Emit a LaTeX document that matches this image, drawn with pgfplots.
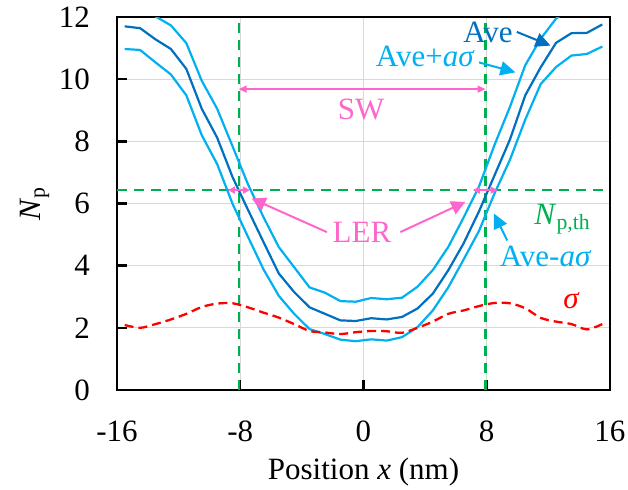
\documentclass[border=0pt]{standalone}
\usepackage{fontspec}
\setmainfont{Liberation Serif}
\usepackage{pgfplots}
\pgfplotsset{compat=1.18}
\usetikzlibrary{arrows.meta}

\definecolor{avec}{HTML}{0070C0}
\definecolor{sigc}{HTML}{00B0F0}
\definecolor{grnc}{HTML}{00B050}
\definecolor{pnkc}{HTML}{FF66CC}
\definecolor{gridc}{HTML}{D9D9D9}

\pgfplotstableread{
x     ave    up     lo     sig
-15.5 11.70  12.45  10.97  2.09
-14.5 11.64  12.35  10.94  2.00
-13.5 11.28  12.02  10.54  2.12
-12.5 10.97  11.73  10.15  2.27
-11.5 10.33  11.16  9.48   2.45
-10.5 9.05   9.95   8.20   2.67
-9.5  8.12   9.05   7.27   2.78
-8.5  6.85   7.84   5.99   2.79
-7.5  5.80   6.62   4.93   2.66
-6.5  4.77   5.57   3.89   2.49
-5.5  3.75   4.60   3.03   2.33
-4.5  3.15   3.95   2.45   2.12
-3.5  2.66   3.30   1.96   1.90
-2.5  2.45   3.13   1.80   1.85
-1.5  2.24   2.86   1.62   1.80
-0.5  2.22   2.84   1.57   1.86
0.5   2.31   2.96   1.63   1.90
1.5   2.27   2.92   1.59   1.89
2.5   2.35   2.97   1.70   1.84
3.5   2.62   3.32   2.02   2.00
4.5   3.10   3.86   2.56   2.20
5.5   3.85   4.60   3.30   2.45
6.5   4.72   5.55   4.20   2.56
7.5   5.75   6.55   5.12   2.70
8.5   6.90   7.88   6.32   2.80
9.5   8.05   9.10   7.40   2.79
10.5  9.48   10.45  8.70   2.63
11.5  10.38  11.30  9.84   2.32
12.5  11.17  11.95  10.39  2.20
13.5  11.48  12.30  10.76  2.12
14.5  11.49  12.40  10.81  1.95
15.5  11.76  12.60  11.05  2.12
}\datatab

\begin{document}
\begin{tikzpicture}
\useasboundingbox (-58.5pt,-49.5pt) rectangle (255.5pt,195pt);
\begin{axis}[
  scale only axis,
  width=246.5pt, height=186.5pt,
  xmin=-16, xmax=16, ymin=0, ymax=12,
  xtick={-16,-8,0,8,16},
  ytick={0,2,4,6,8,10,12},
  xtick pos=left, ytick pos=left,
  tick align=inside,
  major tick length=5pt,
  grid=major,
  grid style={gridc, line width=0.5pt},
  axis line style={black, line width=1.2pt},
  tick style={black, line width=1.2pt},
  font=\fontsize{15.5}{18}\selectfont,
  /pgf/number format/assume math mode=true,
  xticklabel style={yshift=-12pt},
  yticklabel style={xshift=-10pt},
  xlabel={Position \textit{x} (nm)},
  ylabel={\textit{N}\textsubscript{p}},
  xlabel style={yshift=-1pt},
  ylabel style={yshift=-2pt},
  clip mode=individual,
]
% threshold and edge lines
\addplot[grnc, line width=1.2pt, dash pattern=on 5pt off 3.5pt] coordinates {(-16,6.43)(16,6.43)};
\addplot[grnc, line width=1.2pt, dash pattern=on 5pt off 3.5pt] coordinates {(-8.1,0)(-8.1,12)};
\addplot[grnc, line width=1.2pt, dash pattern=on 5pt off 3.5pt] coordinates {(7.92,0)(7.92,12)};
% curves
\addplot[sigc, line width=1.1pt] table[x=x, y=up] {\datatab};
\addplot[sigc, line width=1.1pt] table[x=x, y=lo] {\datatab};
\addplot[avec, line width=1.1pt] table[x=x, y=ave] {\datatab};
\addplot[red, line width=1.15pt, dash pattern=on 4.5pt off 2.5pt, smooth] table[x=x, y=sig] {\datatab};

% SW
\draw[pnkc, line width=0.8pt, {Triangle[length=4pt,width=3.5pt]}-{Triangle[length=4pt,width=3.5pt]}]
  (axis cs:-8.1,9.68) -- (axis cs:7.92,9.68);
\node[pnkc] at (axis cs:-0.15,9.03) {SW};
% LER
\draw[pnkc, line width=0.8pt, {Triangle[length=3.5pt,width=3.5pt]}-{Triangle[length=3.5pt,width=3.5pt]}]
  (axis cs:-8.8,6.43) -- (axis cs:-7.37,6.43);
\draw[pnkc, line width=0.8pt, {Triangle[length=3.5pt,width=3.5pt]}-{Triangle[length=3.5pt,width=3.5pt]}]
  (axis cs:7.1,6.43) -- (axis cs:8.7,6.43);
\node[pnkc] at (axis cs:-0.1,5.07) {LER};
\draw[pnkc, line width=1pt, -{Triangle[length=7pt,width=7pt]}] (axis cs:-2.38,5.08) -- (axis cs:-7.26,6.16);
\draw[pnkc, line width=1pt, -{Triangle[length=7pt,width=7pt]}] (axis cs:2.39,5.08) -- (axis cs:6.61,6.05);
% curve labels
\node[avec] at (axis cs:8.08,11.52) {Ave};
\draw[avec, line width=1pt, -{Triangle[length=7.5pt,width=7pt]}] (axis cs:9.95,11.52) -- (axis cs:12.14,11.08);
\node[sigc] at (axis cs:4.01,10.73) {Ave+\textit{aσ}};
\draw[sigc, line width=1pt, -{Triangle[length=7.5pt,width=7pt]}] (axis cs:7.5,10.54) -- (axis cs:9.86,10.22);
\node[grnc] at (axis cs:12.92,5.5) {\textit{N}\textsubscript{p,th}};
\node[sigc] at (axis cs:11.82,4.29) {Ave-\textit{aσ}};
\draw[sigc, line width=1pt, -{Triangle[length=7.5pt,width=7pt]}] (axis cs:9.33,4.81) -- (axis cs:8.46,5.68);
\node[red] at (axis cs:13.5,2.86) {\textit{σ}};
\end{axis}
\end{tikzpicture}
\end{document}
